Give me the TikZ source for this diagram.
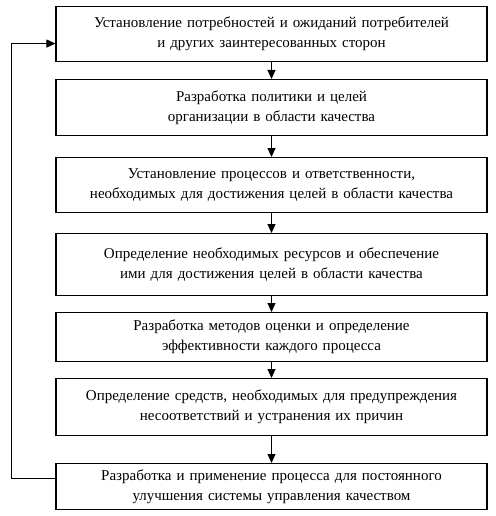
\documentclass[tikz,border=0pt]{standalone}
\usepackage{fontspec}
\setmainfont{Liberation Serif}
\usetikzlibrary{arrows.meta}

\tikzset{
	stage/.style={draw, line width=1.1pt, anchor=north, text width=423pt, inner xsep=4pt,
		align=center, font=\fontsize{15pt}{20pt}\selectfont},
	flow/.style={line width=1pt, -{Triangle[length=9pt,width=8pt]}}
}

\begin{document}
\begin{tikzpicture}[x=1pt,y=-1pt]
	\useasboundingbox (0,0) rectangle (495,516);
	
	\node[stage, minimum height=55pt] (b1) at (271.5,6){Установление потребностей и ожиданий потребителей\\ и других заинтересованных сторон};
	\node[stage, minimum height=56pt] (b2) at (271.5,79){Разработка политики и целей\\ организации в области качества};
	\node[stage, minimum height=55pt] (b3) at (271.5,157){Установление процессов и ответственности,\\ необходимых для достижения целей в области качества};
	\node[stage, minimum height=62pt] (b4) at (271.5,233){Определение необходимых ресурсов и обеспечение\\ ими для достижения целей в области качества};
	\node[stage, minimum height=49pt] (b5) at (271.5,312){Разработка методов оценки и определение\\ эффективности каждого процесса};
	\node[stage, minimum height=57pt] (b6) at (271.5,378){Определение средств, необходимых для предупреждения\\ несоответствий и устранения их причин};
	\node[stage, minimum height=46pt] (b7) at (271.5,463){Разработка и применение процесса для постоянного\\ улучшения системы управления качеством};
	
	\draw[flow] (b1) -- (b2);
	\draw[flow] (b2) -- (b3);
	\draw[flow] (b3) -- (b4);
	\draw[flow] (b4) -- (b5);
	\draw[flow] (b5) -- (b6);
	\draw[flow] (b6) -- (b7);
	
	% feedback loop
	\draw[flow] ([yshift=8pt]b7.west) -- ++(-44,0) coordinate (loop) |- ([yshift=-9.5pt]b1.west);
\end{tikzpicture}
\end{document}
